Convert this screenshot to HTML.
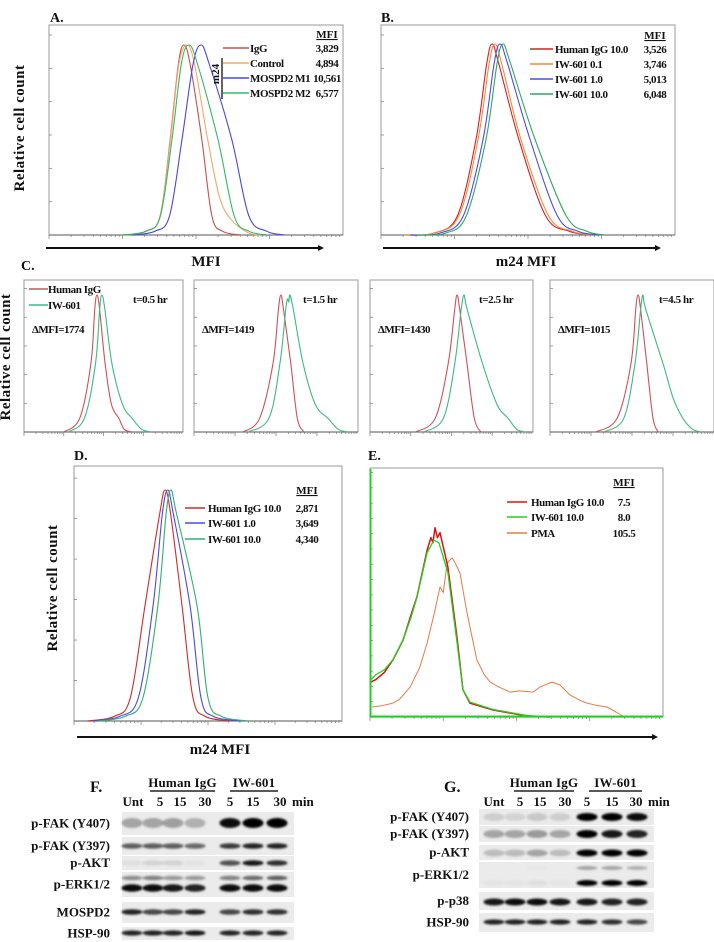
<!DOCTYPE html>
<html><head><meta charset="utf-8"><style>
html,body{margin:0;padding:0;background:#fff}
svg{display:block}
text{font-family:"Liberation Serif",serif;font-weight:bold;fill:#111}
</style></head><body>
<svg id="fig" width="714" height="942" viewBox="0 0 714 942" xmlns="http://www.w3.org/2000/svg">
<defs><filter id="blur" x="-50%" y="-50%" width="200%" height="200%"><feGaussianBlur stdDeviation="1.1"/></filter></defs>
<g id="static">
 <text x="50" y="22" font-size="14">A.</text>
 <text x="381" y="22" font-size="14">B.</text>
 <text x="21" y="270" font-size="14">C.</text>
 <text x="74" y="460" font-size="14">D.</text>
 <text x="368" y="460" font-size="14">E.</text>
 <text transform="translate(24,128) rotate(-90)" text-anchor="middle" font-size="15" letter-spacing="0.5">Relative cell count</text>
 <text transform="translate(10,357) rotate(-90)" text-anchor="middle" font-size="15" letter-spacing="0.5">Relative cell count</text>
 <text transform="translate(57,588) rotate(-90)" text-anchor="middle" font-size="15" letter-spacing="0.5">Relative cell count</text>
 <line x1="46" y1="248" x2="318" y2="248" stroke="#111" stroke-width="2"/>
 <polygon points="318,245 324,248 318,251" fill="#111"/>
 <text x="206" y="266" font-size="15" text-anchor="middle">MFI</text>
 <line x1="383" y1="248" x2="655" y2="248" stroke="#111" stroke-width="2"/>
 <polygon points="655,245 661,248 655,251" fill="#111"/>
 <text x="526" y="266" font-size="15" text-anchor="middle">m24 MFI</text>
 <line x1="77" y1="737" x2="652" y2="737" stroke="#111" stroke-width="2"/>
 <polygon points="652,734 658,737 652,740" fill="#111"/>
 <text x="220" y="754" font-size="15" text-anchor="middle">m24 MFI</text>
</g>
<g id="plots"></g>
<g id="blots"></g>
</svg>
<script>
// ===== Histogram data: [x position (0-100 of axis), relative count (0-100 of peak)] =====
const aIgG=[[25,0],[33,2],[37.8,10],[41.2,50],[44,90],[45.9,100],[48,90],[52,50],[55.4,10],[59,2],[65,0]];
const aControl=[[25,0],[33,2],[37.8,10],[41.3,50],[44.2,90],[46.9,100],[49.5,90],[54,50],[58,20],[62,8],[68,1],[72,0]];
const aM1=[[28,0],[36,2],[41,10],[45.2,50],[49,90],[51.7,100],[54.5,90],[62.2,50],[68,10],[74,2],[80,0]];
const aM2=[[25,0],[33,2],[37.9,10],[41.8,50],[45,90],[47.6,100],[50.5,90],[57.5,50],[63,10],[68,2],[74,0]];
const aLabels=['IgG','Control','MOSPD2 M1','MOSPD2 M2'];
const aMFI=['3,829','4,894','10,561','6,577'];

const bIgG=[[8,0],[18,1],[26,10],[32.3,50],[36,90],[37.8,100],[40,90],[46.9,50],[56,10],[64,2],[72,0]];
const b01=[[8,0],[18,1],[26.5,10],[33,50],[36.8,90],[38.8,100],[41,90],[47.6,50],[57,10],[65,2],[72,0]];
const b1=[[10,0],[20,1],[28,10],[34.7,50],[38.5,90],[40.5,100],[43,90],[50.7,50],[60,10],[67,2],[74,0]];
const b10=[[12,0],[22,1],[29,10],[35.7,50],[39.5,90],[41.5,100],[44,90],[52.4,50],[63,10],[70,2],[76,0]];
const bLabels=['Human IgG 10.0','IW-601 0.1','IW-601 1.0','IW-601 10.0'];
const bMFI=['3,526','3,746','5,013','6,048'];

const c1Red=[[25,0],[35,10],[42.1,50],[44.5,90],[45.9,100],[47.5,90],[51,50],[55,20],[59.7,10],[63,2],[68,0]];
const c1Green=[[28,0],[38,10],[45,50],[47.6,90],[49,100],[50.8,90],[55.3,50],[62,20],[68,10],[74,2],[80,0]];
const c2Red=[[30,0],[40,10],[48.2,50],[51.5,90],[53,100],[54.5,90],[59,50],[63,10],[67,0]];
const c2Green=[[33,0],[45.7,10],[52.4,50],[56,90],[57,97],[57.8,95],[58.5,100],[60.5,90],[66.5,50],[74,20],[81.7,10],[88,2],[94,0]];
const c3Red=[[28,0],[40,10],[48,50],[52,90],[53.4,100],[55,90],[59.5,50],[64,10],[68,0]];
const c3Green=[[33,0],[45,10],[52,50],[56,90],[57.7,100],[59.5,90],[69,50],[78,20],[84.7,10],[90,2],[95,0]];
const c4Red=[[28,0],[40.9,10],[49.4,50],[52.3,90],[53.7,100],[55.2,90],[59,50],[62.8,10],[66,0]];
const c4Green=[[33,0],[45,10],[51.8,50],[55.3,90],[56.7,100],[58.3,90],[68.9,50],[75,25],[81,10],[87,2],[92,0]];
const cTimes=['t=0.5 hr','t=1.5 hr','t=2.5 hr','t=4.5 hr'];
const cDelta=['ΔMFI=1774','ΔMFI=1419','ΔMFI=1430','ΔMFI=1015'];

const dIgG=[[5,0],[15,2],[21,10],[26.5,50],[32,90],[34,100],[36,90],[40.3,50],[44.4,10],[49,2],[58,0]];
const dIW1=[[7,0],[17,2],[24,10],[29.5,50],[33,90],[35,100],[37,90],[43.3,50],[47.4,10],[52,2],[62,0]];
const dIW10=[[9,0],[19,2],[25.7,10],[31.3,50],[34.4,90],[36.2,100],[38.2,90],[45.9,50],[50,10],[55,2],[65,0]];
const dLabels=['Human IgG 10.0','IW-601 1.0','IW-601 10.0'];
const dMFI=['2,871','3,649','4,340'];

// E: y is % of axis height
const eIW=[[0.3,15],[2,17],[5,19],[7.8,23],[11.3,31],[14,40],[16,48],[19.5,66],[21.8,71],[23.5,70],[26.6,58],[29.7,30],[31.7,11],[34.1,6],[42,3],[53.6,0.6],[61.4,0]];
const eIgG=[[0.3,14],[2,15],[5,18],[7.8,22.9],[11.3,30.9],[14,41],[16,48.2],[19.5,67],[20.8,72],[21.5,70],[22.2,76],[23,72],[23.9,74],[26.6,60.2],[29.7,32],[31.7,11],[34.1,5.6],[42,2.8],[53.6,0.4],[61.4,0]];
const ePMA=[[0.7,4],[4,4.5],[7.8,5.6],[10,7],[13.7,12],[17,20],[19.5,29.7],[22,42],[23.9,52.2],[25,50],[26.3,61.8],[28,63.9],[29,62],[30.7,57.8],[33.1,41.8],[36.5,22.9],[39,17],[41,14],[44,12],[47.8,10],[51,10.5],[55.6,10],[58,12],[60,13],[62.1,14],[64.8,12.9],[68.3,8.8],[72,6.5],[74.1,5.6],[78,4.5],[80.9,4],[84,2],[86.3,0.4]];
const eLabels=['Human IgG 10.0','IW-601 10.0','PMA'];
const eMFI=['7.5','8.0','105.5'];

// ===== Blot data: band intensities per lane (0-1) =====
const lanes=['Unt','5','15','30','5','15','30'];
const fY407=[0.3,0.3,0.32,0.25,0.95,1,1];
const fY397=[0.6,0.6,0.6,0.55,0.75,0.85,0.85];
const fAKT=[0.05,0.1,0.1,0.04,0.65,0.9,0.8];
const fERKup=[0.4,0.45,0.35,0.35,0.45,0.55,0.6];
const fERKlo=[0.95,0.95,0.9,0.85,0.95,0.95,0.95];
const fMOSPD2=[0.85,0.7,0.7,0.85,0.7,0.8,0.8];
const fHSP=[0.85,0.85,0.85,0.9,0.85,0.85,0.85];
const gY407=[0.12,0.1,0.15,0.12,1,1,0.95];
const gY397=[0.3,0.3,0.35,0.3,1,0.9,0.85];
const gAKT=[0.2,0.2,0.3,0.2,1,1,1];
const gERKup=[0,0,0.02,0,0.3,0.3,0.25];
const gERKlo=[0.03,0.03,0.05,0.03,1,1,1];
const gP38=[0.9,0.95,0.95,0.9,0.9,0.85,0.85];
const gHSP=[0.85,0.85,0.85,0.85,0.85,0.8,0.7];

const NS='http://www.w3.org/2000/svg';
function mk(tag,attrs,parent){const e=document.createElementNS(NS,tag);for(const k in attrs)e.setAttribute(k,attrs[k]);parent.appendChild(e);return e;}
const plots=document.getElementById('plots');
const blots=document.getElementById('blots');

function smoothPath(pts){
  let d='M'+pts[0][0].toFixed(1)+','+pts[0][1].toFixed(1);
  for(let i=0;i<pts.length-1;i++){
    const p0=pts[Math.max(0,i-1)],p1=pts[i],p2=pts[i+1],p3=pts[Math.min(pts.length-1,i+2)];
    const c1x=p1[0]+(p2[0]-p0[0])/6,c1y=p1[1]+(p2[1]-p0[1])/6;
    const c2x=p2[0]-(p3[0]-p1[0])/6,c2y=p2[1]-(p3[1]-p1[1])/6;
    d+=' C'+c1x.toFixed(1)+','+c1y.toFixed(1)+' '+c2x.toFixed(1)+','+c2y.toFixed(1)+' '+p2[0].toFixed(1)+','+p2[1].toFixed(1);
  }
  return d;
}
function linePath(pts){return pts.map((p,i)=>(i?'L':'M')+p[0].toFixed(1)+','+p[1].toFixed(1)).join(' ');}

function makeAxes(box){
  const sx=v=>box.x0+(box.x1-box.x0)*v/100;
  const sy=v=>box.yb-(box.yb-box.yp)*v/100;
  return {sx,sy};
}
function drawFrame(box,name,ticksLeft){
  const r=mk('rect',{x:box.x0,y:box.yt,width:box.x1-box.x0,height:box.yb-box.yt,fill:'none',stroke:'#9a9a9a','stroke-width':1},plots);
  
  
  const g=mk('g',{stroke:'#888','stroke-width':0.8},plots);
  
  
  const n=ticksLeft||6;
  for(let i=1;i<=n;i++){const y=box.yb-(box.yb-box.yt)*i/(n+0.3);mk('line',{x1:box.x0,x2:box.x0+3,y1:y,y2:y},g);}
  const w=box.x1-box.x0;
  for(let dcd=0;dcd<4;dcd++){
    for(let m=1;m<10;m++){
      const x=box.x0+w*(dcd+Math.log10(m))/4;
      mk('line',{x1:x,x2:x,y1:box.yb,y2:box.yb+(m===1?4:2)},g);
    }
  }
  mk('line',{x1:box.x0,x2:box.x1,y1:box.yb,y2:box.yb,stroke:'#777','stroke-width':1.2},plots);
}
function drawCurve(box,pts,color,name,smooth,width){
  const ax=makeAxes(box);
  const px=pts.map(p=>[ax.sx(p[0]),ax.sy(p[1])]);
  const p=mk('path',{d:smooth?smoothPath(px):linePath(px),fill:'none',stroke:color,'stroke-width':width||1.1,'stroke-linejoin':'round'},plots);
  
  
}
function legend(items,colors,vals,opt,name){
  if(opt.header){
    const h=mk('text',{x:opt.vx,y:opt.hy,'font-size':11,'text-anchor':'middle','text-decoration':'underline'},plots);
    h.textContent='MFI';
    
    
  }
  items.forEach((t,i)=>{
    const y=opt.ys[i];
    const l=mk('line',{x1:opt.lx0,x2:opt.lx1,y1:y,y2:y,stroke:colors[i],'stroke-width':1.6},plots);
    
    
    const tx=mk('text',{x:opt.tx,y:y+4,'font-size':opt.fs||11,'letter-spacing':'-0.4'},plots);
    tx.textContent=t;
    
    
    if(vals){
      const v=mk('text',{x:opt.vx,y:y+4,'font-size':11,'text-anchor':opt.va||'middle','letter-spacing':'-0.4'},plots);
      v.textContent=vals[i];
      
      
    }
  });
}

// Panel A
const boxA={x0:49,x1:343,yt:25,yp:45,yb:235};
drawFrame(boxA,'panel-a');
const colA=['#c9504a','#f2a86a','#4646e6','#35b868'];
[aIgG,aControl,aM1,aM2].forEach((s,i)=>drawCurve(boxA,s,colA[i],'a-curve-'+aLabels[i].toLowerCase().replace(/ /g,'-'),true));
legend(aLabels,colA,aMFI,{header:true,hy:38,vx:327,lx0:223,lx1:249,tx:250,ys:[48,63,78,93]},'a-legend');
mk('line',{x1:222,x2:222,y1:58,y2:99,stroke:'#111','stroke-width':1.3},plots);
{const t=mk('text',{transform:'translate(219,74) rotate(-90)','font-size':11,'text-anchor':'middle'},plots);t.textContent='m24';

}

// Panel B
const boxB={x0:381,x1:675,yt:25,yp:44,yb:235};
drawFrame(boxB,'panel-b');
const colB=['#d42020','#f08a40','#4b4be8','#2ea860'];
[bIgG,b01,b1,b10].forEach((s,i)=>drawCurve(boxB,s,colB[i],'b-curve-'+(i+1),true));
legend(bLabels,colB,bMFI,{header:true,hy:39,vx:655,lx0:530,lx1:553,tx:555,ys:[49,64,79,94]},'b-legend');

// Panel C
const cBoxes=[{x0:24,x1:183},{x0:194,x1:358},{x0:370,x1:533},{x0:550,x1:714}];
const cReds=[c1Red,c2Red,c3Red,c4Red];
const cGreens=[c1Green,c2Green,c3Green,c4Green];
cBoxes.forEach((b,i)=>{
  const box={x0:b.x0,x1:b.x1,yt:280,yp:295,yb:432};
  drawFrame(box,'panel-c'+(i+1),5);
  drawCurve(box,cReds[i],'#d0505a','c'+(i+1)+'-curve-human-igg',true);
  drawCurve(box,cGreens[i],'#3cba80','c'+(i+1)+'-curve-iw601',true);
  const t=mk('text',{x:b.x0+109,y:303,'font-size':11,'letter-spacing':'-0.4'},plots);t.textContent=cTimes[i];
  
  
  const dlt=mk('text',{x:b.x0+8,y:333,'font-size':11,'letter-spacing':'-0.5'},plots);dlt.textContent=cDelta[i];
  
  
});
legend(['Human IgG','IW-601'],['#d0505a','#3cba80'],null,{lx0:29,lx1:48,tx:48,ys:[289,305]},'c-legend');

// Panel D
const boxD={x0:74,x1:342,yt:466,yp:490,yb:721};
drawFrame(boxD,'panel-d');
const colD=['#d02a2a','#4848e8','#30b070'];
[dIgG,dIW1,dIW10].forEach((s,i)=>drawCurve(boxD,s,colD[i],'d-curve-'+(i+1),true));
legend(dLabels,colD,dMFI,{header:true,hy:494,vx:307,lx0:185,lx1:205,tx:208,ys:[508,523,539]},'d-legend');

// Panel E
const boxE={x0:370,x1:663,yt:468,yp:468,yb:717};
drawFrame(boxE,'panel-e',16);
drawCurve(boxE,ePMA,'#e87a45','e-curve-pma',false,1);
drawCurve(boxE,eIgG,'#e01010','e-curve-human-igg',false,1.5);
drawCurve(boxE,eIW,'#20d020','e-curve-iw601',false,1.3);
{const l=mk('line',{x1:370.5,x2:370.5,y1:469,y2:717,stroke:'#20d020','stroke-width':2},plots);


const l2=mk('line',{x1:370,x2:663,y1:716.5,y2:716.5,stroke:'#20d020','stroke-width':2},plots);

}
legend(eLabels,['#e01010','#20d020','#e87a45'],eMFI,{header:true,hy:486,vx:624,lx0:507,lx1:527,tx:531,ys:[502,517,533]},'e-legend');

// ===== Blots =====
function blot(cfg,name){
  const g=mk('g',{},blots);
  
  
  const hd=mk('text',{x:cfg.labelX,y:792,'font-size':16},g);hd.textContent=cfg.title;
  
  
  [['Human IgG',cfg.igg],['IW-601',cfg.iw]].forEach((h,i)=>{
    const t=mk('text',{x:(h[1][0]+h[1][1])/2,y:787,'font-size':13,'text-anchor':'middle','letter-spacing':'0.2'},g);t.textContent=h[0];
    
    
    mk('line',{x1:h[1][0],x2:h[1][1],y1:791,y2:791,stroke:'#222','stroke-width':1.6},g);
  });
  lanes.forEach((l,i)=>{
    const t=mk('text',{x:cfg.lanesText[i],y:806,'font-size':13,'text-anchor':'middle'},g);t.textContent=l;
    
    
  });
  const mn=mk('text',{x:cfg.minX,y:806,'font-size':13},g);mn.textContent='min';
  
  
  cfg.rows.forEach((r,ri)=>{
    mk('rect',{x:cfg.x0,y:r.y0,width:cfg.x1-cfg.x0,height:r.y1-r.y0,fill:'#ebebeb'},g);
    const lt=mk('text',{x:cfg.labelRight,y:(r.y0+r.y1)/2+4,'font-size':13,'text-anchor':'end'},g);lt.textContent=r.name;
    
    
    r.bands.forEach(bd=>{
      bd.vals.forEach((v,li)=>{
        const e=mk('ellipse',{cx:cfg.laneX[li],cy:bd.y,rx:10.5,ry:bd.h,fill:'#000','fill-opacity':v,filter:'url(#blur)'},g);
        
        
      });
    });
  });
}
blot({title:'F.',labelX:90,igg:[150,215],iw:[230,278],lanesText:[133,160,180,205,230,253,280],minX:292,
  x0:122,x1:294,laneX:[132,153,173,195,230,253,277],labelRight:110,
  rows:[
   {name:'p-FAK (Y407)',y0:812,y1:835,bands:[{y:823,vals:fY407,h:5}]},
   {name:'p-FAK (Y397)',y0:837,y1:855,bands:[{y:846,vals:fY397,h:2.8}]},
   {name:'p-AKT',y0:856,y1:870,bands:[{y:863,vals:fAKT,h:2.8}]},
   {name:'p-ERK1/2',y0:872,y1:897,bands:[{y:878,vals:fERKup,h:2.3},{y:888,vals:fERKlo,h:3.8}]},
   {name:'MOSPD2',y0:902,y1:923,bands:[{y:912,vals:fMOSPD2,h:2.8}]},
   {name:'HSP-90',y0:927,y1:940,bands:[{y:933,vals:fHSP,h:2.6}]}
  ]},'blot-f');
blot({title:'G.',labelX:444,igg:[514,574],iw:[589,642],lanesText:[494,520,540,565,587,612,636],minX:648,
  x0:479,x1:654,laneX:[494,515,537,560,587,612,637],labelRight:469,
  rows:[
   {name:'p-FAK (Y407)',y0:809,y1:825,bands:[{y:817,vals:gY407,h:4}]},
   {name:'p-FAK (Y397)',y0:826,y1:842,bands:[{y:834,vals:gY397,h:4}]},
   {name:'p-AKT',y0:845,y1:860,bands:[{y:853,vals:gAKT,h:3.5}]},
   {name:'p-ERK1/2',y0:862,y1:888,bands:[{y:868,vals:gERKup,h:2},{y:883,vals:gERKlo,h:3}]},
   {name:'p-p38',y0:892,y1:910,bands:[{y:902,vals:gP38,h:3.5}]},
   {name:'HSP-90',y0:913,y1:932,bands:[{y:922,vals:gHSP,h:2.6}]}
  ]},'blot-g');
</script>
</body></html>
